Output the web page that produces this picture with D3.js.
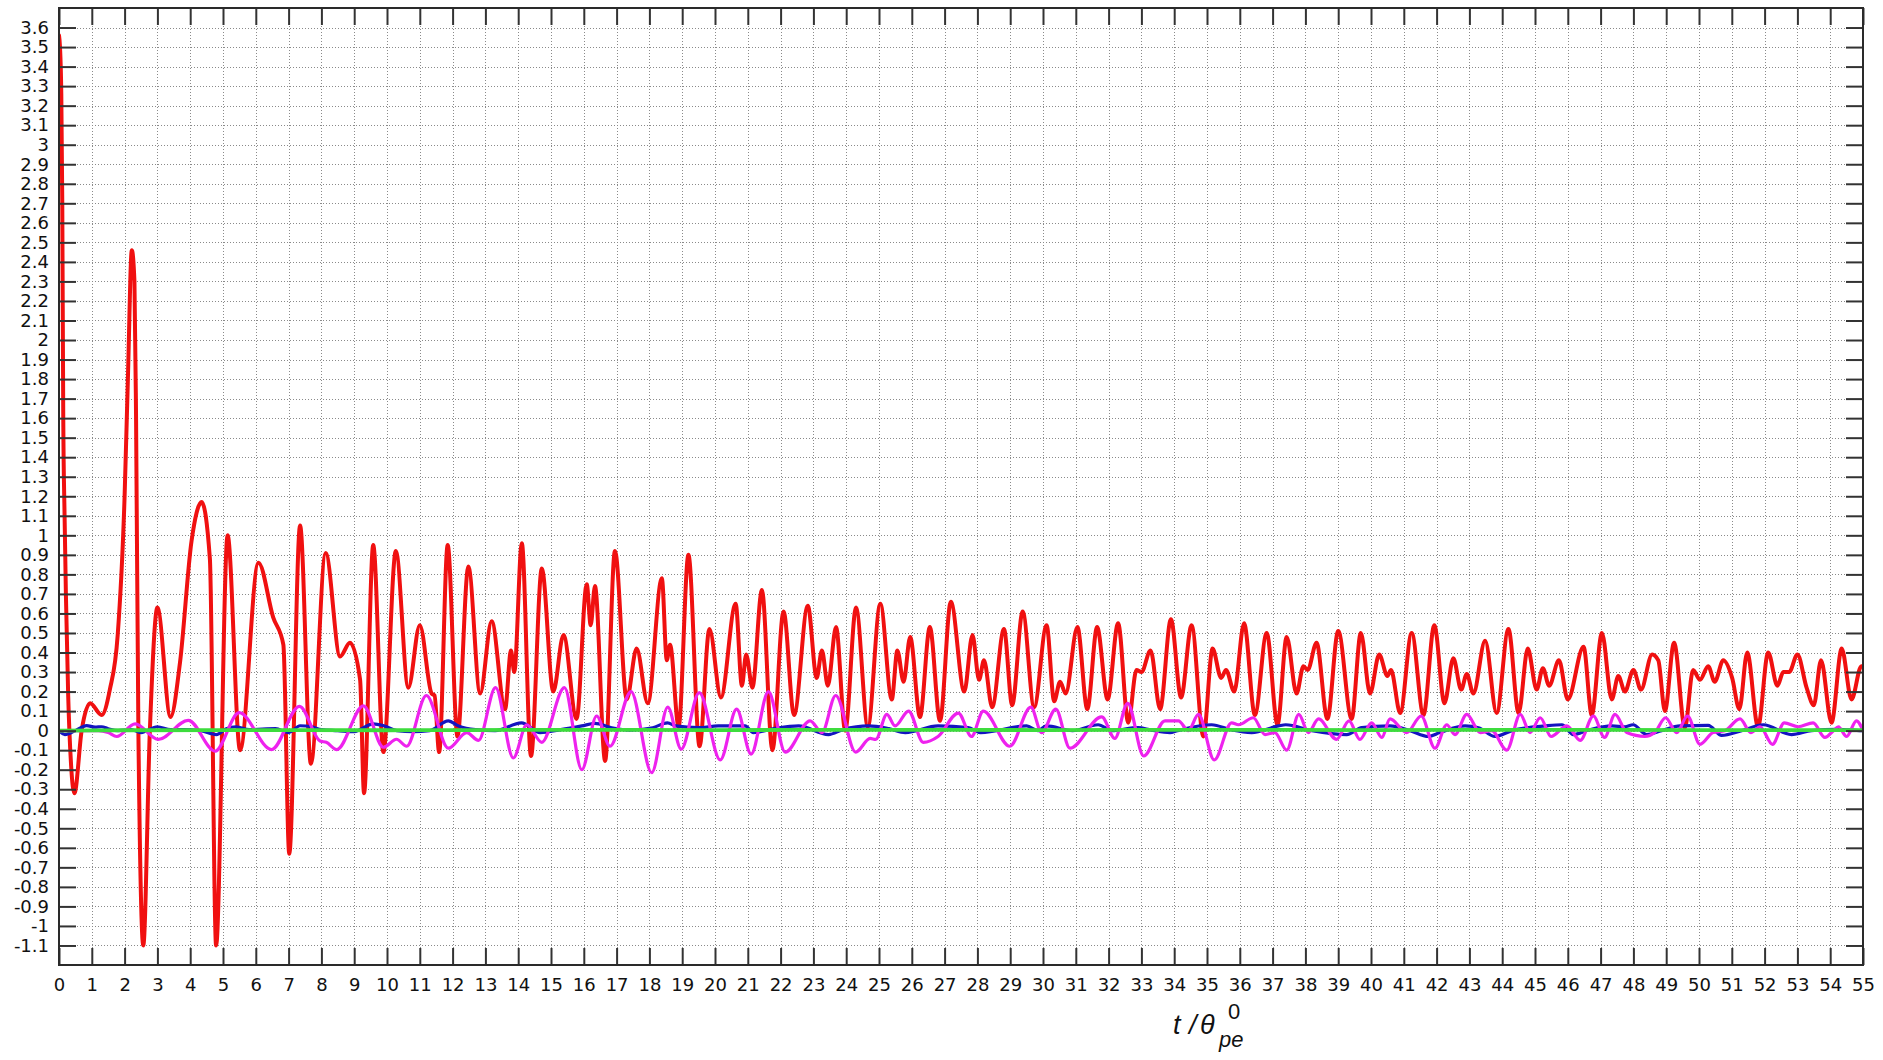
<!DOCTYPE html>
<html>
<head>
<meta charset="utf-8">
<script src="https://cdn.jsdelivr.net/npm/d3@7"></script>
<style>
  html, body { margin: 0; padding: 0; background: #fff; }
  svg { display: block; }
</style>
</head>
<body>
<svg id="chart" width="1883" height="1060"></svg>
<script>
// ---------------- DATA ----------------
const xTickValues = [0,1,2,3,4,5,6,7,8,9,10,11,12,13,14,15,16,17,18,19,20,21,22,23,24,25,26,27,28,29,30,31,32,33,34,35,36,37,38,39,40,41,42,43,44,45,46,47,48,49,50,51,52,53,54,55];
const yTickValues = [-1.1,-1,-0.9,-0.8,-0.7,-0.6,-0.5,-0.4,-0.3,-0.2,-0.1,0,0.1,0.2,0.3,0.4,0.5,0.6,0.7,0.8,0.9,1,1.1,1.2,1.3,1.4,1.5,1.6,1.7,1.8,1.9,2,2.1,2.2,2.3,2.4,2.5,2.6,2.7,2.8,2.9,3,3.1,3.2,3.3,3.4,3.5,3.6];
const xDomain = [0, 55];
const yDomain = [-1.2, 3.7];

// red series [t, value]
const redSeries = [
  [0,3.56],[0.03,3.5],[0.07,3.26],[0.1,2.7],[0.13,1.6],[0.17,1.1],[0.21,0.7],[0.28,0.18],[0.37,-0.18],[0.47,-0.32],
  [0.69,0.0],[0.95,0.14],[1.3,0.08],[1.55,0.21],[1.79,0.49],[2.0,1.2],[2.1,1.8],[2.22,2.46],[2.3,2.3],[2.35,1.59],
  [2.42,0.0],[2.57,-1.1],[2.77,0.0],[3.0,0.63],[3.4,0.07],[3.69,0.35],[4.04,0.97],[4.35,1.17],[4.6,0.88],[4.79,-1.1],
  [5.14,1.0],[5.52,-0.1],[6.08,0.86],[6.53,0.58],[6.84,0.44],[7.02,-0.63],[7.35,1.05],[7.68,-0.17],[8.13,0.91],[8.57,0.38],
  [8.87,0.45],[9.18,0.26],[9.3,-0.32],[9.58,0.95],[9.89,-0.11],[10.27,0.92],[10.65,0.22],[11.0,0.54],[11.36,0.19],[11.45,0.18],
  [11.59,-0.11],[11.85,0.95],[12.15,-0.03],[12.48,0.84],[12.84,0.19],[13.19,0.56],[13.6,0.11],[13.78,0.41],[13.88,0.3],[14.11,0.96],
  [14.39,-0.13],[14.72,0.83],[15.07,0.2],[15.38,0.49],[15.78,0.06],[16.09,0.75],[16.21,0.54],[16.34,0.74],[16.65,-0.155],[16.95,0.92],
  [17.31,0.16],[17.61,0.42],[17.95,0.14],[18.38,0.78],[18.53,0.36],[18.63,0.44],[18.89,0.02],[19.19,0.9],[19.53,-0.08],[19.83,0.52],
  [20.18,0.17],[20.63,0.65],[20.82,0.23],[20.95,0.39],[21.14,0.22],[21.43,0.72],[21.75,-0.1],[22.09,0.61],[22.41,0.08],[22.83,0.64],
  [23.1,0.27],[23.26,0.41],[23.44,0.23],[23.69,0.53],[23.97,0.0],[24.3,0.63],[24.66,0.02],[25.04,0.65],[25.39,0.16],[25.56,0.41],
  [25.75,0.25],[25.95,0.48],[26.25,0.07],[26.55,0.53],[26.86,0.05],[27.19,0.66],[27.6,0.2],[27.85,0.49],[28.05,0.26],[28.2,0.36],
  [28.45,0.12],[28.81,0.52],[29.06,0.13],[29.38,0.61],[29.73,0.12],[30.11,0.54],[30.34,0.15],[30.52,0.25],[30.69,0.19],[31.05,0.53],
  [31.35,0.11],[31.65,0.53],[31.97,0.16],[32.29,0.55],[32.6,0.04],[32.85,0.31],[33.0,0.3],[33.28,0.41],[33.57,0.11],[33.9,0.57],
  [34.21,0.17],[34.53,0.54],[34.89,-0.03],[35.17,0.42],[35.43,0.27],[35.58,0.31],[35.83,0.2],[36.13,0.55],[36.46,0.08],[36.82,0.5],
  [37.15,0.03],[37.43,0.48],[37.73,0.19],[37.94,0.33],[38.07,0.31],[38.34,0.45],[38.67,0.06],[39.0,0.51],[39.41,0.06],[39.69,0.5],
  [39.97,0.19],[40.25,0.39],[40.5,0.28],[40.61,0.31],[40.89,0.09],[41.24,0.5],[41.6,0.08],[41.93,0.54],[42.24,0.14],[42.51,0.37],
  [42.75,0.21],[42.92,0.29],[43.12,0.19],[43.48,0.46],[43.83,0.09],[44.19,0.52],[44.5,0.09],[44.78,0.42],[45.05,0.21],[45.24,0.32],
  [45.43,0.23],[45.73,0.36],[46.0,0.16],[46.48,0.43],[46.73,0.08],[47.04,0.5],[47.34,0.16],[47.54,0.28],[47.74,0.2],[48.0,0.31],
  [48.23,0.21],[48.57,0.39],[48.76,0.36],[48.96,0.1],[49.24,0.45],[49.57,0.015],[49.82,0.31],[50.03,0.26],[50.28,0.33],[50.48,0.25],
  [50.74,0.36],[51.01,0.27],[51.23,0.11],[51.47,0.4],[51.8,0.02],[52.11,0.4],[52.39,0.23],[52.57,0.3],[52.75,0.3],[53.0,0.39],
  [53.28,0.22],[53.5,0.13],[53.72,0.36],[54.04,0.04],[54.35,0.42],[54.65,0.16],[54.95,0.33],[55,0.33]
];

// magenta series [t, value]
const magentaSeries = [
  [0,0],[1.2,0.0],[1.5,-0.01],[1.76,-0.03],[2.32,0.035],[3.03,-0.045],[3.94,0.053],[4.76,-0.105],[5.49,0.092],[6.48,-0.097],
  [7.33,0.124],[7.96,-0.053],[8.15,-0.06],[8.47,-0.097],[9.28,0.127],[9.89,-0.085],[10.29,-0.044],[10.6,-0.08],[11.2,0.18],[11.87,-0.09],
  [12.43,-0.01],[12.79,-0.05],[13.31,0.22],[13.85,-0.14],[14.26,0.03],[14.72,-0.06],[15.41,0.22],[15.94,-0.2],[16.39,0.075],[16.8,-0.08],
  [17.44,0.2],[18.07,-0.215],[18.56,0.12],[18.97,-0.095],[19.52,0.195],[20.16,-0.15],[20.66,0.11],[21.1,-0.12],[21.63,0.2],[22.14,-0.11],
  [22.9,0.05],[23.26,-0.01],[23.68,0.18],[24.29,-0.11],[24.73,-0.04],[24.9,-0.045],[25.24,0.083],[25.49,0.024],[25.9,0.1],[26.35,-0.06],
  [26.8,-0.03],[27.42,0.09],[27.82,-0.03],[28.18,0.1],[28.99,-0.08],[29.63,0.12],[29.96,-0.01],[30.39,0.11],[30.82,-0.09],[31.79,0.07],
  [32.19,-0.04],[32.58,0.14],[33.07,-0.13],[33.72,0.05],[34.13,0.05],[34.43,0.0],[34.74,0.083],[35.22,-0.15],[35.75,0.04],[35.96,0.03],
  [36.41,0.066],[36.77,-0.02],[37.07,-0.01],[37.43,-0.1],[37.8,0.083],[38.09,-0.01],[38.4,0.06],[38.95,-0.045],[39.33,0.05],[39.66,-0.045],
  [40.02,0.04],[40.33,-0.035],[40.58,0.06],[41.09,-0.01],[41.53,0.075],[41.95,-0.09],[42.31,0.03],[42.56,-0.02],[42.92,0.083],[43.33,-0.01],
  [43.68,0.0],[44.14,-0.1],[44.55,0.083],[44.85,-0.01],[45.16,0.066],[45.49,-0.03],[45.97,0.024],[46.38,-0.05],[46.78,0.075],[47.12,-0.035],
  [47.44,0.083],[47.8,-0.01],[48.35,-0.03],[48.65,-0.01],[48.98,0.066],[49.32,-0.01],[49.65,0.075],[50.03,-0.07],[50.43,-0.01],[50.79,0.0],
  [51.25,0.06],[51.58,-0.01],[51.86,0.02],[52.24,-0.07],[52.6,0.04],[53.02,0.02],[53.48,0.04],[53.84,-0.035],[54.1,0.0],[54.25,0.02],
  [54.5,-0.03],[54.8,0.05],[55,0.0]
];

// blue series [t, value]
const blueSeries = [
  [0,0],[0.18,-0.02],[0.5,0.0],[0.84,0.026],[1.1,0.018],[1.3,0.02],[1.5,0.01],[1.8,0.0],[2.2,0.005],[2.5,-0.01],
  [3.0,0.02],[3.4,0.005],[3.8,0.005],[4.3,0.0],[4.8,-0.02],[5.1,0.01],[5.4,0.02],[5.8,0.005],[6.6,0.01],[7.0,-0.01],
  [7.35,0.025],[7.7,0.02],[8.0,0.005],[8.5,0.0],[9.0,-0.005],[9.58,0.035],[9.9,0.025],[10.3,0.0],[10.8,-0.005],[11.3,0.0],
  [11.87,0.05],[12.18,0.024],[12.7,0.005],[13.3,0.0],[14.1,0.04],[14.67,-0.01],[15.3,0.005],[15.94,0.024],[16.34,0.037],[16.85,0.015],
  [17.4,0.003],[18.1,0.015],[18.55,0.04],[18.8,0.024],[19.5,0.015],[20.1,0.024],[20.92,0.024],[21.17,-0.01],[21.8,0.01],[22.55,0.024],
  [23.46,-0.02],[23.9,0.005],[24.68,0.024],[25.3,0.01],[25.8,-0.01],[26.8,0.024],[27.72,0.015],[28.1,-0.01],[29.5,0.024],[29.85,0.0],
  [30.1,0.024],[30.9,0.0],[31.68,0.03],[32.1,0.0],[32.9,0.015],[33.3,0.003],[33.87,-0.01],[34.1,0.0],[35.14,0.03],[35.75,0.003],
  [36.36,-0.01],[37.18,0.024],[37.4,0.03],[38.2,0.0],[39.26,-0.02],[39.72,0.015],[40.58,0.024],[41.19,0.0],[41.75,-0.03],[42.1,-0.01],
  [42.87,0.024],[43.28,0.015],[43.78,-0.03],[44.3,0.0],[45.31,0.024],[45.82,0.03],[46.17,-0.02],[46.63,0.003],[47.34,0.024],[47.74,0.02],
  [47.99,0.03],[48.4,-0.02],[48.86,0.0],[49.42,0.024],[50.28,0.027],[50.69,-0.024],[51.3,0.0],[51.96,0.03],[52.82,-0.02],[53.43,0.0],
  [54.24,0.007],[54.96,0.0],[55,0.0]
];

// green series [t, value]
const greenSeries = [
  [0,0.0],[2,0.002],[5,0.003],[10,0.002],[15,0.004],[20,0.003],[25,0.004],[30,0.003],[35,0.004],[40,0.003],[45,0.004],[50,0.003],[55,0.003]
];

// ---------------- CHART ----------------
const svg = d3.select("#chart");
const plot = { left: 59, right: 1863, top: 8, bottom: 965 };

const x = d3.scaleLinear().domain(xDomain).range([plot.left, plot.right]);
const y = d3.scaleLinear().domain(yDomain).range([plot.bottom, plot.top]);

const fmt = v => String(+(+v).toFixed(1));
const fontFamily = "'DejaVu Sans', 'Liberation Sans', Arial, sans-serif";

// grid
const grid = svg.append("g").attr("class", "grid")
  .attr("stroke", "#8a8a8a").attr("stroke-width", 1).attr("stroke-dasharray", "1,2");
grid.selectAll("line.v").data(xTickValues.filter(d => d > 0 && d < 55)).enter().append("line")
  .attr("class", "v")
  .attr("x1", d => Math.round(x(d)) + 0.5).attr("x2", d => Math.round(x(d)) + 0.5)
  .attr("y1", plot.top).attr("y2", plot.bottom);
grid.selectAll("line.h").data(yTickValues).enter().append("line")
  .attr("class", "h")
  .attr("y1", d => Math.round(y(d)) + 0.5).attr("y2", d => Math.round(y(d)) + 0.5)
  .attr("x1", plot.left).attr("x2", plot.right);

// series
const line = d3.line()
  .x(d => x(d[0]))
  .y(d => y(d[1]))
  .curve(d3.curveMonotoneX);

svg.append("clipPath").attr("id", "clip")
  .append("rect").attr("x", plot.left).attr("y", plot.top - 2)
  .attr("width", plot.right - plot.left).attr("height", plot.bottom - plot.top + 2);

const series = svg.append("g").attr("clip-path", "url(#clip)")
  .attr("fill", "none").attr("stroke-linejoin", "round").attr("stroke-linecap", "round");

series.append("path").datum(redSeries).attr("d", line)
  .attr("stroke", "#f01010").attr("stroke-width", 4);
series.append("path").datum(blueSeries).attr("d", line)
  .attr("stroke", "#1414c0").attr("stroke-width", 3.2);
series.append("path").datum(magentaSeries).attr("d", line)
  .attr("stroke", "#ee22ee").attr("stroke-width", 3.2);
series.append("path").datum(greenSeries).attr("d", line)
  .attr("stroke", "#3ddc3d").attr("stroke-width", 3.8);

// axes
const tickLen = 17;
function styleAxis(g) {
  g.select(".domain").remove();
  g.selectAll(".tick line").attr("stroke", "#333").attr("stroke-width", 2);
  g.selectAll(".tick text").attr("fill", "#111")
    .style("font-family", fontFamily).style("font-size", "18px");
}

svg.append("g").attr("transform", `translate(${plot.left},0)`)
  .call(d3.axisLeft(y).tickValues(yTickValues).tickFormat(fmt).tickSize(-tickLen).tickPadding(10))
  .call(styleAxis);

svg.append("g").attr("transform", `translate(${plot.right},0)`)
  .call(d3.axisRight(y).tickValues(yTickValues).tickFormat("").tickSize(-tickLen))
  .call(styleAxis);

svg.append("g").attr("transform", `translate(0,${plot.bottom})`)
  .call(d3.axisBottom(x).tickValues(xTickValues).tickFormat(fmt).tickSize(-tickLen).tickPadding(13))
  .call(styleAxis);

svg.append("g").attr("transform", `translate(0,${plot.top})`)
  .call(d3.axisTop(x).tickValues(xTickValues).tickFormat("").tickSize(-tickLen))
  .call(styleAxis);

// frame
svg.append("rect")
  .attr("x", plot.left).attr("y", plot.top)
  .attr("width", plot.right - plot.left).attr("height", plot.bottom - plot.top)
  .attr("fill", "none").attr("stroke", "#2a2a2a").attr("stroke-width", 2);

// x-axis title: t / θ_pe^0
const titleFont = "'Liberation Sans', Arial, sans-serif";
const tg = svg.append("g").attr("fill", "#111").style("font-family", titleFont);
tg.append("text").attr("x", 1173).attr("y", 1034).style("font-size", "27px").style("font-style", "italic").text("t");
tg.append("text").attr("x", 1189).attr("y", 1034).style("font-size", "27px").style("font-style", "italic").text("/");
tg.append("text").attr("x", 1200).attr("y", 1034).style("font-size", "27px").style("font-style", "italic").text("θ");
tg.append("text").attr("x", 1228).attr("y", 1019).style("font-size", "22px").text("0");
tg.append("text").attr("x", 1219).attr("y", 1047).style("font-size", "22px").style("font-style", "italic").text("pe");
</script>
</body>
</html>
